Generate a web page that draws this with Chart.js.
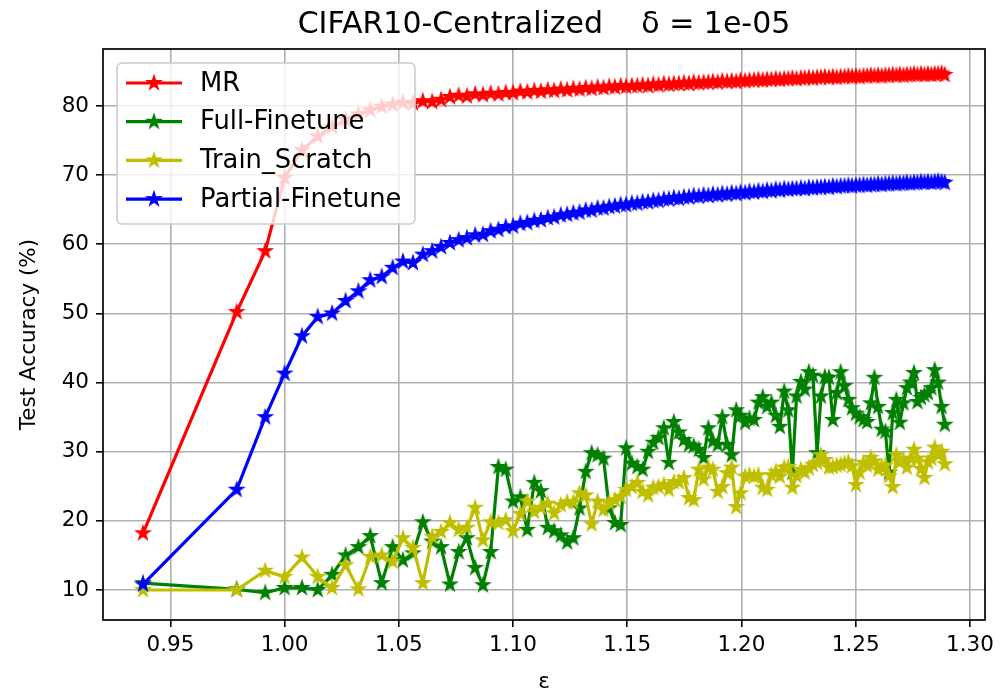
<!DOCTYPE html>
<html><head><meta charset="utf-8">
<script src="https://cdn.jsdelivr.net/npm/chart.js@4.4.1/dist/chart.umd.min.js"></script>
<style>html,body{margin:0;padding:0;background:#fff;}canvas{display:block;}</style>
</head><body>
<canvas id="c" width="1000" height="695"></canvas>
<script>
// ---- data ----
const epsilon = [
 0.938, 0.979, 0.9915,
 1.0000, 1.0076, 1.0145, 1.0208, 1.0267, 1.0323, 1.0375, 1.0425, 1.0473, 1.0518,
 1.0562, 1.0605, 1.0646, 1.0685, 1.0724, 1.0762, 1.0798, 1.0834, 1.0868, 1.0902,
 1.0936, 1.0968, 1.1000, 1.1032, 1.1062, 1.1093, 1.1122, 1.1152, 1.1180, 1.1209,
 1.1237, 1.1264, 1.1291, 1.1318, 1.1344, 1.1370, 1.1396, 1.1421, 1.1446, 1.1471,
 1.1495, 1.1520, 1.1544, 1.1567, 1.1591, 1.1614, 1.1637, 1.1660, 1.1682, 1.1704,
 1.1726, 1.1748, 1.1770, 1.1791, 1.1813, 1.1834, 1.1855, 1.1875, 1.1896, 1.1916,
 1.1937, 1.1957, 1.1977, 1.1996, 1.2016, 1.2035, 1.2055, 1.2074, 1.2093, 1.2112,
 1.2131, 1.2150, 1.2168, 1.2187, 1.2205, 1.2223, 1.2241, 1.2260, 1.2277, 1.2295,
 1.2313, 1.2331, 1.2348, 1.2365, 1.2383, 1.2400, 1.2417, 1.2434, 1.2451, 1.2468,
 1.2484, 1.2501, 1.2517, 1.2534, 1.2550, 1.2566, 1.2582, 1.2598, 1.2614, 1.2630,
 1.2646, 1.2662, 1.2678, 1.2693, 1.2709, 1.2724, 1.2740, 1.2755, 1.2770, 1.2786,
 1.2801, 1.2816, 1.2831, 1.2846, 1.2861, 1.2876, 1.2890
];
const mr = [
 18.2, 50.2, 59.0, 69.6, 73.6, 75.6, 77.0, 78.0, 78.8, 79.4,
 79.9, 80.2, 80.5, 80.4, 80.7, 80.6, 80.9, 81.3, 81.5, 81.4,
 81.7, 81.6, 81.8, 81.7, 81.9, 81.9, 82.1, 82.0, 82.2, 82.1,
 82.3, 82.2, 82.4, 82.3, 82.5, 82.4, 82.6, 82.5, 82.7, 82.6,
 82.8, 82.7, 82.9, 82.8, 82.9, 82.9, 83.0, 82.9, 83.1, 83.0,
 83.2, 83.1, 83.2, 83.2, 83.3, 83.2, 83.4, 83.3, 83.4, 83.4,
 83.5, 83.4, 83.6, 83.5, 83.6, 83.5, 83.7, 83.6, 83.7, 83.7,
 83.8, 83.7, 83.8, 83.8, 83.9, 83.8, 83.9, 83.9, 84.0, 83.9,
 84.0, 84.0, 84.1, 84.0, 84.1, 84.1, 84.2, 84.1, 84.2, 84.1,
 84.2, 84.2, 84.3, 84.2, 84.3, 84.2, 84.3, 84.3, 84.4, 84.3,
 84.4, 84.3, 84.4, 84.4, 84.5, 84.4, 84.5, 84.4, 84.5, 84.5,
 84.6, 84.5, 84.6, 84.5, 84.6, 84.5, 84.6, 84.6, 84.7, 84.5
];
const fullFinetune = [
 11.0, 10.1, 9.6, 10.3, 10.3, 10.0, 12.2, 15.0, 16.2, 17.8,
 11.0, 16.2, 14.3, 15.3, 19.8, 17.0, 16.2, 10.8, 15.5, 17.5,
 13.2, 10.7, 15.5, 27.8, 27.4, 22.8, 23.4, 18.7, 25.5, 24.3,
 19.0, 18.5, 17.9, 16.9, 17.5, 21.8, 27.1, 29.8, 29.5, 29.0,
 21.8, 19.7, 19.4, 30.5, 28.3, 27.8, 27.4, 30.0, 31.3, 32.0,
 33.4, 28.4, 34.3, 32.8, 31.7, 31.0, 30.8, 30.3, 29.1, 33.4,
 31.5, 31.0, 35.0, 31.0, 29.5, 36.0, 35.2, 34.2, 34.8, 34.6,
 37.1, 37.9, 36.5, 37.1, 35.2, 33.6, 38.7, 36.0, 27.0, 38.0,
 40.1, 39.0, 41.5, 41.0, 29.8, 38.0, 40.8, 40.7, 34.6, 38.5,
 41.5, 39.5, 37.5, 36.3, 35.5, 35.0, 34.6, 34.3, 37.0, 40.7,
 36.5, 33.2, 32.9, 27.0, 35.6, 37.5, 34.2, 37.0, 39.2, 40.0,
 41.4, 37.2, 37.8, 38.2, 38.5, 39.2, 41.8, 40.0, 36.5, 33.9
];
const trainScratch = [
 10.0, 10.0, 12.8, 11.9, 14.7, 11.9, 10.3, 13.6, 10.1, 14.8,
 15.0, 14.1, 17.5, 16.1, 11.0, 17.7, 18.4, 19.7, 18.7, 19.0,
 21.9, 17.2, 19.8, 19.7, 20.1, 18.5, 21.0, 22.8, 21.3, 21.9,
 22.5, 21.1, 22.3, 22.7, 22.7, 24.0, 23.7, 19.5, 22.8, 21.6,
 22.6, 23.0, 23.5, 24.5, 24.9, 25.5, 24.2, 23.7, 24.8, 24.9,
 25.2, 24.5, 25.6, 25.6, 26.2, 23.3, 23.0, 27.4, 26.0, 27.7,
 27.4, 24.2, 24.9, 26.9, 27.7, 22.0, 24.0, 26.4, 26.6, 26.4,
 26.6, 24.8, 24.5, 26.6, 27.1, 26.4, 27.7, 27.8, 24.8, 26.5,
 27.4, 27.0, 27.6, 28.1, 28.4, 29.5, 28.8, 27.7, 27.8, 28.0,
 28.1, 28.3, 28.5, 27.9, 25.2, 27.0, 28.4, 28.0, 29.1, 28.6,
 27.4, 27.8, 28.0, 26.5, 24.9, 29.5, 28.5, 28.8, 27.7, 29.0,
 30.3, 29.0, 27.5, 26.2, 28.5, 29.0, 30.6, 29.5, 30.0, 28.2
];
const partialFinetune = [
 10.8, 24.5, 35.0, 41.3, 46.7, 49.5, 50.0, 51.8, 53.2, 54.8,
 55.3, 56.6, 57.5, 57.3, 58.5, 59.0, 59.6, 60.2, 60.6, 60.9,
 61.3, 61.4, 61.9, 62.1, 62.5, 62.6, 63.0, 63.1, 63.4, 63.5,
 63.8, 63.9, 64.2, 64.3, 64.5, 64.6, 64.9, 64.9, 65.2, 65.2,
 65.4, 65.5, 65.7, 65.7, 65.9, 65.9, 66.1, 66.1, 66.3, 66.3,
 66.5, 66.5, 66.7, 66.6, 66.8, 66.8, 67.0, 66.9, 67.1, 67.0,
 67.2, 67.1, 67.3, 67.2, 67.4, 67.3, 67.5, 67.4, 67.6, 67.5,
 67.7, 67.6, 67.8, 67.7, 67.9, 67.8, 68.0, 67.9, 68.0, 68.0,
 68.1, 68.0, 68.2, 68.1, 68.2, 68.2, 68.3, 68.2, 68.4, 68.3,
 68.4, 68.4, 68.5, 68.4, 68.5, 68.5, 68.6, 68.5, 68.6, 68.6,
 68.7, 68.6, 68.7, 68.7, 68.8, 68.7, 68.8, 68.8, 68.9, 68.8,
 68.9, 68.9, 69.0, 68.9, 69.0, 68.9, 69.0, 69.1, 69.0, 68.9
];
const seriesNames = ['MR', 'Full-Finetune', 'Train_Scratch', 'Partial-Finetune'];
const seriesColors = ['#ff0000', '#008000', '#bfbf00', '#0000ff'];
const xTicks = [0.95, 1.00, 1.05, 1.10, 1.15, 1.20, 1.25, 1.30];
const yTicks = [10, 20, 30, 40, 50, 60, 70, 80];
const titleText = 'CIFAR10-Centralized    \u03b4 = 1e-05';
const xLabel = '\u03b5';
const yLabel = 'Test Accuracy (%)';

// ---- styling ----
const FAMILY = "'DejaVu Sans', 'Liberation Sans', sans-serif";
const TICK_PX = 21.5;

function makeStar(color) {
  const S = 24, c = document.createElement('canvas');
  c.width = S; c.height = S;
  const g = c.getContext('2d');
  g.translate(S / 2, S / 2);
  const R = 6.2, r = R * 0.381966;
  g.beginPath();
  for (let i = 0; i < 10; i++) {
    const a = -Math.PI / 2 + i * Math.PI / 5;
    const rr = (i % 2) ? r : R;
    g.lineTo(rr * Math.cos(a), rr * Math.sin(a));
  }
  g.closePath();
  g.fillStyle = color; g.fill();
  g.lineWidth = 2; g.strokeStyle = color; g.lineJoin = 'miter'; g.stroke();
  return c;
}
const starImgs = seriesColors.map(makeStar);

const seriesValues = [mr, fullFinetune, trainScratch, partialFinetune];
const datasets = seriesValues.map((vals, i) => ({
  label: seriesNames[i],
  data: vals.map((v, j) => ({ x: epsilon[j], y: v })),
  borderColor: seriesColors[i],
  backgroundColor: seriesColors[i],
  borderWidth: 3.2,
  borderJoinStyle: 'round',
  pointStyle: starImgs[i],
  pointRadius: 6,
  pointHoverRadius: 6,
  tension: 0,
  fill: false,
  order: 3 - i
}));

const framePlugin = {
  id: 'frame',
  afterDatasetsDraw(chart) {
    const { ctx, chartArea: a } = chart;
    ctx.save();
    ctx.strokeStyle = '#000'; ctx.lineWidth = 1.7;
    ctx.strokeRect(a.left, a.top, a.right - a.left, a.bottom - a.top);
    ctx.restore();
  }
};
const xLabelsPlugin = {
  id: 'xlabels',
  afterDraw(chart) {
    const { ctx, chartArea: a } = chart;
    const sx = chart.scales.x;
    ctx.save();
    ctx.font = TICK_PX + 'px ' + FAMILY;
    ctx.fillStyle = '#000';
    ctx.textAlign = 'center'; ctx.textBaseline = 'alphabetic';
    xTicks.forEach(v => {
      ctx.fillText(v.toFixed(2), sx.getPixelForValue(v), a.bottom + 31);
    });
    ctx.restore();
  }
};
const titlePlugin = {
  id: 'mtitle',
  afterDraw(chart) {
    const { ctx, chartArea: a } = chart;
    ctx.save();
    ctx.font = '30px ' + FAMILY;
    ctx.fillStyle = '#000';
    ctx.textAlign = 'center'; ctx.textBaseline = 'alphabetic';
    ctx.fillText(titleText, (a.left + a.right) / 2, 33);
    ctx.restore();
  }
};
const legendPlugin = {
  id: 'mlegend',
  afterDraw(chart) {
    const { ctx } = chart;
    const bx = 117, by = 63, bw = 298, bh = 161, br = 5;
    ctx.save();
    ctx.beginPath();
    ctx.roundRect(bx, by, bw, bh, br);
    ctx.fillStyle = 'rgba(255,255,255,0.8)'; ctx.fill();
    ctx.strokeStyle = '#cccccc'; ctx.lineWidth = 1.6; ctx.stroke();
    ctx.font = '25.8px ' + FAMILY;
    ctx.textAlign = 'left'; ctx.textBaseline = 'middle';
    seriesNames.forEach((name, i) => {
      const y = 83 + i * 38.7;
      ctx.beginPath();
      ctx.moveTo(126, y); ctx.lineTo(182, y);
      ctx.strokeStyle = seriesColors[i]; ctx.lineWidth = 3.2; ctx.lineCap = 'butt';
      ctx.stroke();
      const img = starImgs[i];
      ctx.drawImage(img, 154 - img.width / 2, y - img.height / 2);
      ctx.fillStyle = '#000';
      ctx.fillText(name, 200, y + 1);
    });
    ctx.restore();
  }
};

new Chart(document.getElementById('c'), {
  type: 'line',
  data: { datasets },
  plugins: [framePlugin, xLabelsPlugin, titlePlugin, legendPlugin],
  options: {
    responsive: false,
    animation: false,
    devicePixelRatio: 1,
    layout: { padding: { left: 0, right: 15, top: 49, bottom: 0 } },
    plugins: { legend: { display: false }, title: { display: false }, tooltip: { enabled: false } },
    events: [],
    scales: {
      x: {
        type: 'linear', min: 0.9205, max: 1.3066,
        afterBuildTicks: s => { s.ticks = xTicks.map(v => ({ value: v })); },
        afterFit: s => { s.height = 75; s.paddingLeft = 0; s.paddingRight = 0; },
        border: { display: false },
        grid: { color: '#b0b0b0', lineWidth: 1.6, drawTicks: true, tickLength: 7, tickColor: '#000', tickWidth: 1.6 },
        ticks: { display: false },
        title: { display: true, text: xLabel, font: { family: FAMILY, size: TICK_PX }, color: '#000', padding: { top: 0, bottom: 0 } }
      },
      y: {
        type: 'linear', min: 5.66, max: 88.24,
        afterBuildTicks: s => { s.ticks = yTicks.map(v => ({ value: v })); },
        afterFit: s => { s.width = 103; s.paddingTop = 0; s.paddingBottom = 0; },
        border: { display: false },
        grid: { color: '#b0b0b0', lineWidth: 1.6, drawTicks: true, tickLength: 7, tickColor: '#000', tickWidth: 1.6 },
        ticks: { font: { family: FAMILY, size: TICK_PX }, color: '#000', padding: 7, autoSkip: false,
                 callback: v => String(v) },
        title: { display: true, text: yLabel, font: { family: FAMILY, size: TICK_PX }, color: '#000', padding: { top: 17, bottom: 0 } }
      }
    }
  }
});
</script>
</body></html>
